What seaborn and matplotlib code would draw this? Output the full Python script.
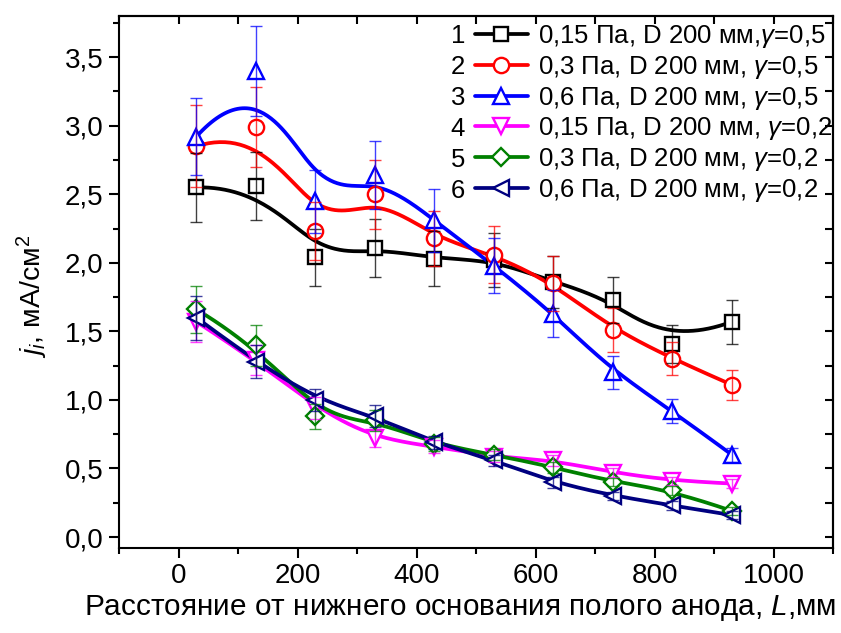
import numpy as np
import matplotlib
matplotlib.use("Agg")
import matplotlib.pyplot as plt
import seaborn as sns
from matplotlib.lines import Line2D
from matplotlib.ticker import MultipleLocator, FuncFormatter

sns.set_theme(style="ticks")
plt.rcParams['font.family'] = ['Liberation Sans', 'DejaVu Sans']
plt.rcParams['mathtext.fontset'] = 'custom'
plt.rcParams['mathtext.rm'] = 'Liberation Sans'
plt.rcParams['mathtext.it'] = 'Liberation Sans:italic'
for key in ['text.color', 'axes.labelcolor', 'xtick.color', 'ytick.color', 'axes.edgecolor']:
    plt.rcParams[key] = 'black'

# data
L = [30, 130, 230, 330, 430, 530, 630, 730, 830, 930]

j1 = [2.55, 2.56, 2.04, 2.11, 2.03, 2.02, 1.86, 1.73, 1.41, 1.57]
j2 = [2.85, 2.99, 2.23, 2.50, 2.18, 2.06, 1.85, 1.51, 1.30, 1.11]
j3 = [2.92, 3.40, 2.45, 2.64, 2.31, 1.98, 1.63, 1.20, 0.92, 0.60]
j4 = [1.57, 1.29, 0.94, 0.72, 0.66, 0.585, 0.56, 0.47, 0.41, 0.39]
j5 = [1.66, 1.40, 0.88, 0.85, 0.68, 0.60, 0.51, 0.40, 0.34, 0.19]
j6 = [1.60, 1.28, 1.00, 0.88, 0.69, 0.56, 0.40, 0.30, 0.23, 0.16]

e1 = [0.25, 0.25, 0.21, 0.21, 0.20, 0.20, 0.19, 0.17, 0.14, 0.16]
e2 = [0.30, 0.29, 0.21, 0.25, 0.20, 0.21, 0.20, 0.16, 0.12, 0.11]
e3 = [0.28, 0.33, 0.23, 0.25, 0.23, 0.20, 0.17, 0.12, 0.09, 0.05]
e4 = [0.15, 0.11, 0.08, 0.06, 0.05, 0.04, 0.04, 0.03, 0.03, 0.03]
e5 = [0.17, 0.15, 0.09, 0.08, 0.05, 0.04, 0.04, 0.03, 0.03, 0.03]
e6 = [0.16, 0.12, 0.08, 0.08, 0.05, 0.04, 0.04, 0.03, 0.03, 0.03]

numbers = ['1', '2', '3', '4', '5', '6']
labels = ["0,15 Па, D 200 мм,$\\mathit{\\gamma}$=0,5",
          "0,3 Па, D 200 мм, $\\mathit{\\gamma}$=0,5",
          "0,6 Па, D 200 мм, $\\mathit{\\gamma}$=0,5",
          "0,15 Па, D 200 мм, $\\mathit{\\gamma}$=0,2",
          "0,3 Па, D 200 мм, $\\mathit{\\gamma}$=0,2",
          "0,6 Па, D 200 мм, $\\mathit{\\gamma}$=0,2"]
colors = ['black', 'red', 'blue', 'magenta', 'green', 'navy']
markers = ['s', 'o', '^', 'v', 'D', '<']
msizes = [10, 11, 12, 12, 9, 12]


def bspline(x, y, k=3, n=400):
    # clamped uniform B-spline, data points used as control points (Origin "B-Spline" line)
    x = np.asarray(x, float)
    y = np.asarray(y, float)
    m = len(x)
    t = np.concatenate([np.zeros(k), np.arange(m - k + 1), np.full(k, m - k)])
    u = np.linspace(0, m - k, n)
    u[-1] -= 1e-9
    N = np.zeros((n, len(t) - 1))
    for i in range(len(t) - 1):
        N[:, i] = (t[i] <= u) & (u < t[i + 1])
    for d in range(1, k + 1):
        Nn = np.zeros((n, len(t) - 1 - d))
        for i in range(len(t) - 1 - d):
            a = 0 if t[i + d] == t[i] else (u - t[i]) / (t[i + d] - t[i]) * N[:, i]
            b = 0 if t[i + d + 1] == t[i + 1] else (t[i + d + 1] - u) / (t[i + d + 1] - t[i + 1]) * N[:, i + 1]
            Nn[:, i] = a + b
        N = Nn
    return N @ x, N @ y


W, H = 841, 633
fig = plt.figure(figsize=(W / 100, H / 100), dpi=100)
ax = fig.add_axes([0.1415, 0.1343, 0.849, 0.8404])

series = [j1, j2, j3, j4, j5, j6]
errs = [e1, e2, e3, e4, e5, e6]
for i, (ys, es) in enumerate(zip(series, errs)):
    bx, by = bspline(L, ys)
    sns.lineplot(x=bx, y=by, color=colors[i], lw=2.7, sort=False, ax=ax, zorder=2 + i * 0.1)
    ax.plot(L, ys, ls='none', marker=markers[i], ms=msizes[i], mfc='white',
            mec=colors[i], mew=1.7, zorder=3 + i * 0.1)
    ax.errorbar(L, ys, yerr=es, fmt='none', ecolor=colors[i], elinewidth=1.0,
                capsize=4.5, capthick=1.0, alpha=0.75, zorder=4 + i * 0.1)

ax.set_xlim(-100, 1100)
ax.set_ylim(-0.08, 3.8)
ax.xaxis.set_major_locator(MultipleLocator(200))
ax.xaxis.set_minor_locator(MultipleLocator(100))
ax.yaxis.set_major_locator(MultipleLocator(0.5))
ax.yaxis.set_minor_locator(MultipleLocator(0.25))
ax.yaxis.set_major_formatter(FuncFormatter(lambda v, p: f"{v:.1f}".replace('.', ',')))
ax.xaxis.set_major_formatter(FuncFormatter(lambda v, p: f"{v:.0f}"))
ax.tick_params(which='major', direction='out', length=7, width=1.5, labelsize=20, pad=4, color='black')
ax.tick_params(which='minor', direction='out', length=4, width=1.5, color='black')
for s in ax.spines.values():
    s.set_linewidth(1.5)
    s.set_color('black')

# inward ticks on top and right
top = ax.secondary_xaxis('top')
top.xaxis.set_major_locator(MultipleLocator(200))
top.xaxis.set_minor_locator(MultipleLocator(100))
top.tick_params(which='both', direction='in', length=6, width=1.5, labeltop=False)
right = ax.secondary_yaxis('right')
right.yaxis.set_major_locator(MultipleLocator(0.5))
right.yaxis.set_minor_locator(MultipleLocator(0.25))
right.tick_params(which='both', direction='in', length=6, width=1.5, labelright=False)
top.spines['top'].set_linewidth(1.5)
right.spines['right'].set_linewidth(1.5)

ax.set_xlabel("Расстояние от нижнего основания полого анода, $\\mathit{L}$,мм", fontsize=21.4)
ax.xaxis.set_label_coords(0.478, -0.085)
ax.set_ylabel("$\\mathit{j_i}$, мА/см$^2$", fontsize=20.5)
ax.yaxis.set_label_coords(-0.097, 0.472)

handles = [Line2D([], [], color=c, lw=2.7, marker=m, ms=s, mfc='white', mec=c, mew=1.7)
           for c, m, s in zip(colors, markers, msizes)]
leg = ax.legend(handles, labels, loc='upper left', bbox_to_anchor=(0.4986, 0.987),
                frameon=False, fontsize=18.5, handlelength=2.05, handletextpad=0.42,
                labelspacing=0.15, borderaxespad=0.0, borderpad=0.0)

# row numbers left of the legend handles
fig.canvas.draw()
for num, t in zip(numbers, leg.get_texts()):
    bb = t.get_window_extent()
    fig.text(458 / W, (bb.y0 + bb.y1) / 2 / H, num, ha='center', va='center', fontsize=18.5)

fig.savefig("out.png", dpi=100)
